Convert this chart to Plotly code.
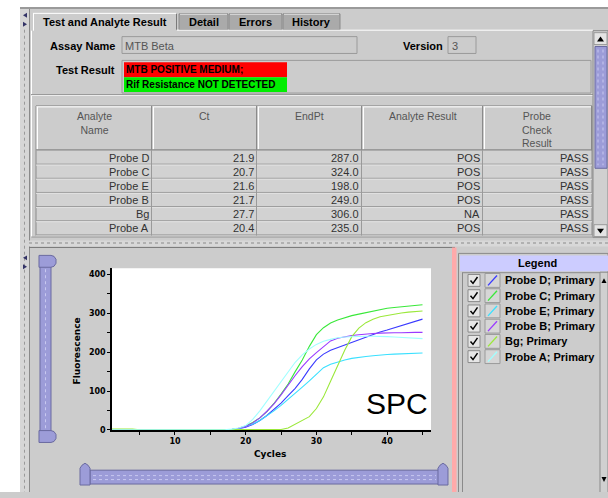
import plotly.graph_objects as go

REF_W, REF_H = 608, 498
W, H = 608, 492   # figure size on the page (page background fills the rest)

# ---------------- data ----------------
cycles = [1, 2, 3, 4, 5, 6, 7, 8, 9, 10, 11, 12, 13, 14, 15, 16, 17, 18, 19, 20,
          21, 22, 23, 24, 25, 26, 27, 28, 29, 30, 31, 32, 33, 34, 35, 36, 37, 38, 39, 40,
          41, 42, 43, 44, 45]

series_names = ["Probe D; Primary", "Probe C; Primary", "Probe E; Primary",
                "Probe B; Primary", "Bg; Primary", "Probe A; Primary"]
series_colors = ["#3a3aff", "#3ae83a", "#3ae0ff", "#9a3aff", "#9be83a", "#a0ffff"]

probe_d = [0, 0, 0, 0, 0, 0, 0, 0, 0, 0, 0, 0, 0, 0, 0, 0, 0, 1, 3, 7,
           14, 24, 37, 52, 69, 88, 107, 130, 157, 180, 195, 205, 212, 218, 224, 232, 240, 246, 252, 257,
           263, 269, 275, 280, 285]
probe_c = [0, 0, 0, 0, 0, 0, 0, 0, 0, 0, 0, 0, 0, 0, 0, 0, 0, 1, 4, 10,
           19, 31, 47, 68, 92, 118, 150, 180, 215, 245, 263, 275, 283, 289, 294, 298, 302, 306, 310, 313,
           315, 317, 319, 321, 322]
probe_e = [0, 0, 0, 0, 0, 0, 0, 0, 0, 0, 0, 0, 0, 0, 0, 0, 0, 1, 3, 8,
           15, 24, 36, 49, 63, 78, 93, 110, 126, 143, 160, 169, 175, 180, 184, 187, 189, 191, 193, 194,
           195, 196, 197, 198, 198]
probe_b = [0, 0, 0, 0, 0, 0, 0, 0, 0, 0, 0, 0, 0, 0, 0, 0, 0, 1, 4, 9,
           18, 31, 48, 67, 90, 116, 140, 163, 183, 199, 214, 229, 236, 240, 243, 245, 247, 248, 249, 250,
           250, 250, 251, 251, 251]
bg = [2, 2, 2, 2, 0, 0, 0, 0, 0, 0, 0, 0, 0, 0, 0, 0, 0, 0, 0, 0,
      0, 0, 0, 0, 1, 5, 14, 24, 34, 55, 85, 125, 165, 205, 240, 262, 276, 285, 291, 295,
      298, 301, 303, 305, 306]
probe_a = [0, 0, 0, 0, 0, 0, 0, 0, 0, 0, 0, 0, 0, 0, 0, 0, 0, 2, 5, 11,
           27, 49, 74, 100, 125, 152, 174, 193, 208, 220, 228, 233, 237, 239, 240, 241, 241, 241, 241, 240,
           239, 238, 237, 236, 235]
series_values = [probe_d, probe_c, probe_e, probe_b, bg, probe_a]

analyte_names = ["Probe D", "Probe C", "Probe E", "Probe B", "Bg", "Probe A"]
ct_values = ["21.9", "20.7", "21.6", "21.7", "27.7", "20.4"]
endpt_values = ["287.0", "324.0", "198.0", "249.0", "306.0", "235.0"]
analyte_results = ["POS", "POS", "POS", "POS", "NA", "POS"]
probe_check = ["PASS", "PASS", "PASS", "PASS", "PASS", "PASS"]
table_headers = ["Analyte<br>Name", "Ct", "EndPt", "Analyte Result", "Probe<br>Check<br>Result"]

x_ticks = [10, 20, 30, 40]
x_minor = [5, 15, 25, 35, 45]
y_ticks = [0, 100, 200, 300, 400]
y_minor = [50, 150, 250, 350]

tabs = ["Test and Analyte Result", "Detail", "Errors", "History"]

# ---------------- helpers ----------------
shapes = []
annotations = []


def fx(x):
    return x / W


def fy(y):
    return 1 - y / H


def rect(x0, y0, x1, y1, fill=None, line=None, lw=1, layer="below", dash=None):
    d = dict(type="rect", xref="paper", yref="paper",
             x0=fx(x0), x1=fx(x1), y0=fy(y1), y1=fy(y0),
             fillcolor=fill if fill else "rgba(0,0,0,0)",
             line=dict(color=line if line else "rgba(0,0,0,0)", width=lw if line else 0),
             layer=layer)
    if dash:
        d["line"]["dash"] = dash
    shapes.append(d)


def seg(x0, y0, x1, y1, color, lw=1, layer="below", dash=None):
    d = dict(type="line", xref="paper", yref="paper",
             x0=fx(x0), x1=fx(x1), y0=fy(y0), y1=fy(y1),
             line=dict(color=color, width=lw), layer=layer)
    if dash:
        d["line"]["dash"] = dash
    shapes.append(d)


def path(points, fill=None, line=None, lw=1, layer="below", close=True):
    s = "M " + " L ".join(f"{fx(x):.5f},{fy(y):.5f}" for x, y in points)
    if close:
        s += " Z"
    shapes.append(dict(type="path", xref="paper", yref="paper", path=s,
                       fillcolor=fill if fill else "rgba(0,0,0,0)",
                       line=dict(color=line if line else "rgba(0,0,0,0)", width=lw if line else 0),
                       layer=layer))


def text(x, y, s, size=11, color="#000", bold=False, xanchor="left", yanchor="middle",
         family="Liberation Sans", angle=0):
    annotations.append(dict(xref="paper", yref="paper", x=fx(x), y=fy(y),
                            text=s, showarrow=False, xanchor=xanchor, yanchor=yanchor,
                            textangle=angle, borderpad=0,
                            font=dict(size=size, color=color, family=family,
                                      weight="bold" if bold else "normal")))


LAV = "#9c9cd8"
LAV_EDGE = "#6a6aa0"
GRAY = "#cccccc"

# ---------------- window chrome ----------------
rect(0, 0, 20, REF_H, fill="#ffffff")
rect(0, 0, W, 7, fill="#ffffff")
rect(20, 7, W, 9, fill="#9a9a9a")
# left splitter strip
rect(20, 9, 29, REF_H, fill="#d6d6d6")
seg(24.5, 30, 24.5, REF_H, "#9a9a9a", 1, dash="dot")
seg(29.5, 9, 29.5, REF_H, "#8a8a8a", 1)
for yy in (13, 258):
    path([(27, yy), (27, yy + 5), (23, yy + 2.5)], fill="#333366")
    path([(23, yy + 9), (23, yy + 14), (27, yy + 11.5)], fill="#333366")

# tabs
tab_x = [(33, 177), (179, 228), (229, 282), (283, 340)]
for i, (a, b) in enumerate(tab_x):
    if i == 0:
        rect(a, 13, b, 31, fill=GRAY)
        seg(a, 13.5, b - 1, 13.5, "#ffffff", 1)
        seg(a + 0.5, 13.5, a + 0.5, 31, "#ffffff", 1)
        seg(b - 0.5, 14, b - 0.5, 30, "#7a7a7a", 1)
    else:
        rect(a, 14, b, 30, fill="#aaaaaa", line="#8a8a8a")
        seg(a + 1, 14.5, b - 1, 14.5, "#dddddd", 1)
    text((a + b) / 2, 22, tabs[i], size=11, bold=True, xanchor="center")
seg(177, 30.5, 593, 30.5, "#ffffff", 1)
seg(31.5, 31, 31.5, 240, "#ffffff", 1)

# assay name / version
text(116, 46, "Assay Name", bold=True, xanchor="right")
rect(122, 37, 357, 54, fill=GRAY, line="#9a9a9a")
text(124, 46, "MTB Beta", color="#555555", size=11)
text(444, 46, "Version", bold=True, xanchor="right")
rect(448, 37, 476, 54, fill=GRAY, line="#9a9a9a")
text(451, 46, "3", color="#555555", size=11)

# test result
text(116, 71, "Test Result", bold=True, xanchor="right")
rect(122, 61, 591, 94, fill=GRAY, line="#9a9a9a")
rect(124, 63, 287, 78, fill="#ff0000")
rect(124, 78, 287, 93, fill="#00ee00")
text(125, 70.5, "MTB POSITIVE MEDIUM;", size=10, bold=True)
text(125, 85.5, "Rif Resistance NOT DETECTED", size=10, bold=True)
seg(31, 96.5, 593, 96.5, "#eeeeee", 1)
seg(31, 95.5, 593, 95.5, "#9a9a9a", 1)

# top scrollbar
rect(593, 31, 608, 240, fill="#d0d0d0", line="#8a8a8a")
rect(594, 33, 607, 45, fill="#e4e4e4", line="#9a9a9a")
path([(597, 42), (604, 42), (600.5, 37)], fill="#000000")
rect(595, 47, 607, 170, fill=LAV, line=LAV_EDGE)
seg(598, 50, 598, 167, "#c8c8f0", 1, dash="dot")
seg(603, 50, 603, 167, "#c8c8f0", 1, dash="dot")
rect(594, 227, 607, 239, fill="#e4e4e4", line="#9a9a9a")
path([(597, 231), (604, 231), (600.5, 236)], fill="#000000")

# ---------------- table ----------------
col_edges = [36, 152, 257, 362, 483, 592]
head_top, head_bot = 107, 152
row_h = 14.3
rect(36, head_top, 592, 238, fill="#d2d2d2", line="#8a8a8a")
rect(36, head_top, 592, head_bot, fill=GRAY)
for i in range(5):
    a, b = col_edges[i], col_edges[i + 1]
    seg(a + 1, head_top + 1, b - 1, head_top + 1, "#ffffff", 1)
    seg(a + 1.5, head_top + 1, a + 1.5, head_bot - 1, "#ffffff", 1)
    seg(b - 0.5, head_top, b - 0.5, head_bot, "#8a8a8a", 1)
    text((a + b) / 2, head_top + 3, table_headers[i], size=10.5, color="#555555",
         xanchor="center", yanchor="top")
seg(36, head_bot - 0.5, 592, head_bot - 0.5, "#8a8a8a", 1.2)
for r in range(1, 7):
    yl = head_bot + r * row_h - 0.5
    seg(36, yl, 592, yl, "#9a9a9a", 1)
    seg(36, yl + 1, 592, yl + 1, "#e2e2e2", 1)
for xe in col_edges[1:-1]:
    seg(xe - 0.5, head_bot, xe - 0.5, 238, "#9a9a9a", 1)
columns = [analyte_names, ct_values, endpt_values, analyte_results, probe_check]
for ci, col in enumerate(columns):
    for ri, v in enumerate(col):
        text(col_edges[ci + 1] - 2, head_bot + row_h * (ri + 0.5), v, size=11,
             color="#333333", xanchor="right")

# splitter
seg(31, 239.5, W, 239.5, "#9a9a9a", 1)
rect(29, 243, W, 249, fill="#d8d8d8")
seg(29, 245.5, W, 245.5, "#8a8a8a", 1, dash="dot")
seg(29, 250, 455, 250, "#7a7a7a", 1)

# vertical slider (left)
rect(40, 262, 51, 442, fill=LAV, line=LAV_EDGE)
seg(45.5, 272, 45.5, 434, "#c8c8f0", 1, dash="dot")
path([(39, 258), (51, 258), (54, 259), (56, 262), (56, 266), (54, 269), (51, 270), (39, 270)],
     fill=LAV, line=LAV_EDGE)
path([(39, 435), (51, 435), (54, 436), (56, 439), (56, 443), (54, 446), (51, 447), (39, 447)],
     fill=LAV, line=LAV_EDGE)

# horizontal slider (bottom)
rect(90, 475, 439, 489, fill=LAV, line=LAV_EDGE)
seg(93, 480.5, 436, 480.5, "#c8c8f0", 1, dash="dot")
seg(93, 484.5, 436, 484.5, "#c8c8f0", 1, dash="dot")
for a in (80, 438):
    path([(a, 490), (a, 473), (a + 2, 470), (a + 5, 468), (a + 8, 470), (a + 10, 473), (a + 10, 490)],
         fill=LAV, line=LAV_EDGE)

# pink divider
rect(452, 250, 456.5, REF_H, fill="#ffaaaa")

# ---------------- legend panel ----------------
rect(458.5, 256, W, REF_H, fill=GRAY, line="#8a8a8a")
rect(460, 258, W, 274, fill="#ccccff")
text(537, 266, "Legend", size=11, bold=True, xanchor="center")
seg(462, 275.5, 600, 275.5, "#8a8a8a", 1)
seg(462.5, 275.5, 462.5, REF_H, "#8a8a8a", 1)
rect(600, 275, W, REF_H, fill="#d0d0d0", line="#8a8a8a")
path([(601.5, 286), (606.5, 286), (604, 281)], fill="#000000")
path([(601.5, 482), (606.5, 482), (604, 487)], fill="#000000")
for i, (nm, col) in enumerate(zip(series_names, series_colors)):
    yc = 283.3 + 15.4 * i
    rect(468, yc - 6, 480, yc + 6, fill="#e6e6e6", line="#8a8a8a")
    path([(470.5, yc), (473, yc + 3), (477.5, yc - 3.5)], line="#000000", lw=1.5, close=False)
    rect(485, yc - 7, 500, yc + 7, fill="#d6d6d6", line="#9a9a9a")
    seg(488, yc + 5, 497, yc - 5, col, 1.3)
    text(504, yc, nm, size=11, bold=True)

# ---------------- chart ----------------
PX0, PX1 = 112, 431
PY_TOP, PY_BOT = 271, 434.3

fig = go.Figure()
for nm, col, vals in zip(series_names, series_colors, series_values):
    fig.add_trace(go.Scatter(x=cycles, y=vals, mode="lines", name=nm,
                             line=dict(color=col, width=1.1), showlegend=False))

axis_font = dict(family="DejaVu Sans", size=8, color="#000000", weight="bold")
fig.update_layout(
    width=W, height=H, margin=dict(l=0, r=0, t=0, b=0),
    paper_bgcolor=GRAY, plot_bgcolor="#ffffff",
    showlegend=False,
    shapes=shapes, annotations=annotations,
    xaxis=dict(domain=[fx(PX0), fx(PX1)], range=[1.1, 46.2],
               tickvals=x_ticks, ticks="outside", ticklen=3, tickwidth=1, tickcolor="#000",
               minor=dict(tickvals=x_minor, ticks="outside", ticklen=3, tickcolor="#000"),
               showline=True, linecolor="#000000", linewidth=1.5,
               showgrid=False, zeroline=False, tickfont=axis_font, layer="below traces"),
    yaxis=dict(domain=[fy(PY_BOT), fy(PY_TOP)], range=[0, 416],
               tickvals=y_ticks, ticks="outside", ticklen=3, tickwidth=1, tickcolor="#000",
               minor=dict(tickvals=y_minor, ticks="outside", ticklen=3, tickcolor="#000"),
               showline=True, linecolor="#000000", linewidth=1.5,
               showgrid=False, zeroline=False, tickfont=axis_font),
)
fig.add_annotation(xref="paper", yref="paper", x=fx(270), y=fy(459), text="Cycles",
                   showarrow=False, xanchor="center", yanchor="middle",
                   font=dict(family="DejaVu Sans", size=9, color="#000", weight="bold"))
fig.add_annotation(xref="paper", yref="paper", x=fx(77), y=fy(355), text="Fluorescence",
                   showarrow=False, xanchor="center", yanchor="middle", textangle=-90,
                   font=dict(family="DejaVu Sans", size=9, color="#000", weight="bold"))
fig.add_annotation(xref="paper", yref="paper", x=fx(397), y=fy(407.5), text="SPC",
                   showarrow=False, xanchor="center", yanchor="middle",
                   font=dict(family="Liberation Sans", size=30, color="#000"))

# remove the default 8px page margin and scrollbars; the page background
# continues the grey panel below the figure
fig.write_html(
    "out.html", config={"displayModeBar": False},
    post_script=("document.documentElement.style.overflow='hidden';"
                 "document.body.style.overflow='hidden';"
                 "document.body.style.margin='0px';"
                 "document.documentElement.style.background='#cccccc';"
                 "document.body.style.background='#cccccc';"))
